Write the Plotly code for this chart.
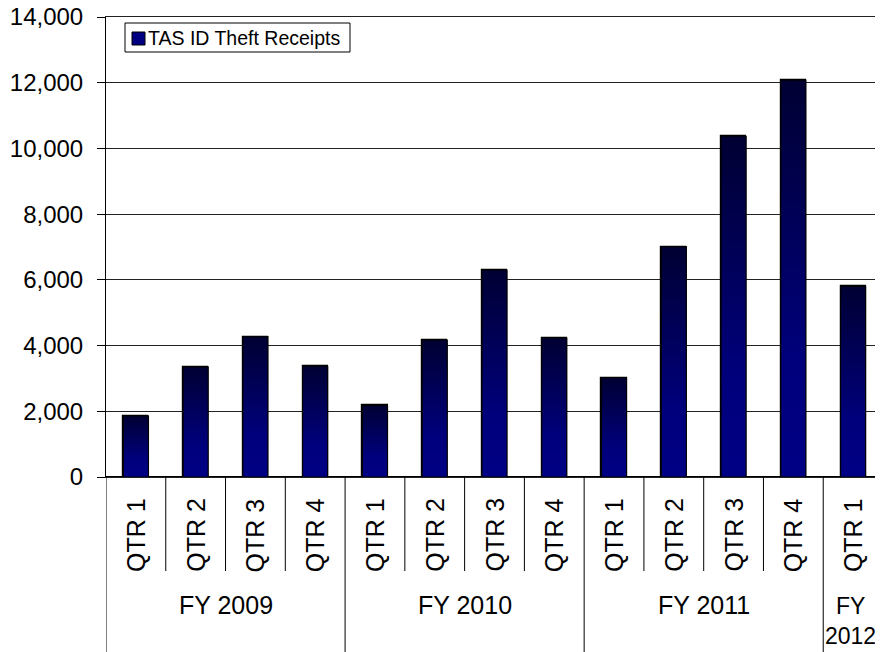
import plotly.graph_objects as go

# ---- data ----
quarters = ["QTR 1", "QTR 2", "QTR 3", "QTR 4",
            "QTR 1", "QTR 2", "QTR 3", "QTR 4",
            "QTR 1", "QTR 2", "QTR 3", "QTR 4",
            "QTR 1"]
fiscal_years = ["FY 2009", "FY 2010", "FY 2011", "FY<br>2012"]
quarters_per_year = [4, 4, 4, 1]
receipts = [1860, 3350, 4270, 3370,
            2180, 4170, 6300, 4230,
            3020, 7010, 10370, 12080,
            5800]
series_name = "TAS ID Theft Receipts"
y_ticks = [0, 2000, 4000, 6000, 8000, 10000, 12000, 14000]

# ---- styling ----
FONT = "Liberation Sans, Arial, sans-serif"
BAR_W = 0.42
PLOT_H = 460.0
PLOT_W = 777.0
x_pos = list(range(len(receipts)))

fig = go.Figure()

# base bar trace (data)
fig.add_trace(go.Bar(
    x=x_pos, y=receipts, width=BAR_W, name=series_name,
    marker=dict(color="#000080", line=dict(color="black", width=1.2)),
    showlegend=False,
))

# gradient overlay for each bar (dark top -> navy bottom)
for xi, v in zip(x_pos, receipts):
    fig.add_trace(go.Scatter(
        x=[xi - BAR_W / 2, xi + BAR_W / 2, xi + BAR_W / 2, xi - BAR_W / 2, xi - BAR_W / 2],
        y=[0, 0, v, v, 0],
        mode="lines", fill="toself",
        fillgradient=dict(type="vertical", start=0, stop=v,
                          colorscale=[[0, "#000085"], [0.3, "#00007c"], [1, "#000033"]]),
        line=dict(color="black", width=1.2),
        hoverinfo="skip", showlegend=False,
    ))

shapes = []
annotations = []
qtr_sep_y = -94 / PLOT_H
grp_sep_y = -180 / PLOT_H

# quarter labels
for xi, q in zip(x_pos, quarters):
    annotations.append(dict(
        x=xi, y=-58 / PLOT_H, xref="x", yref="paper", text=q, textangle=-90,
        showarrow=False, font=dict(family=FONT, size=25, color="black"),
        xanchor="center", yanchor="middle"))

# group labels + separators
start = 0
for fy, n in zip(fiscal_years, quarters_per_year):
    end = start + n
    for b in range(start + 1, end):
        shapes.append(dict(type="line", xref="x", yref="paper",
                           x0=b - 0.5, x1=b - 0.5, y0=0, y1=qtr_sep_y,
                           line=dict(color="black", width=1)))
    shapes.append(dict(type="line", xref="x", yref="paper",
                       x0=start - 0.5, x1=start - 0.5, y0=0, y1=grp_sep_y,
                       line=dict(color="black", width=1)))
    center = (start + end - 1) / 2
    if "<br>" in fy:
        annotations.append(dict(
            x=start - 0.5, xshift=0, y=-144 / PLOT_H, xref="x", yref="paper",
            text=fy, showarrow=False, align="center",
            font=dict(family=FONT, size=23, color="black"),
            xanchor="left", yanchor="middle"))
    else:
        annotations.append(dict(
            x=center, y=-128 / PLOT_H, xref="x", yref="paper",
            text=fy, showarrow=False, font=dict(family=FONT, size=25, color="black"),
            xanchor="center", yanchor="middle"))
    start = end

# legend box (drawn)
lx0, lx1 = (125 - 106) / PLOT_W, (350 - 106) / PLOT_W
ly0, ly1 = (477 - 52) / PLOT_H, (477 - 23) / PLOT_H
shapes.append(dict(type="rect", xref="paper", yref="paper", x0=lx0, x1=lx1, y0=ly0, y1=ly1,
                   line=dict(color="black", width=1), fillcolor="white", layer="above"))
shapes.append(dict(type="rect", xref="paper", yref="paper",
                   x0=(132 - 106) / PLOT_W, x1=(145 - 106) / PLOT_W,
                   y0=(477 - 45) / PLOT_H, y1=(477 - 32) / PLOT_H,
                   line=dict(color="black", width=1), fillcolor="#000080", layer="above"))
annotations.append(dict(x=(146 - 106) / PLOT_W, y=(477 - 38) / PLOT_H, xref="paper", yref="paper",
                        text=series_name, showarrow=False, xanchor="left", yanchor="middle",
                        font=dict(family=FONT, size=19.5, color="black")))

fig.update_layout(
    width=875, height=644,
    margin=dict(l=98, r=0, t=9, b=175, autoexpand=False),
    paper_bgcolor="white", plot_bgcolor="white",
    font=dict(family=FONT, color="black"),
    bargap=0,
    showlegend=False,
    shapes=shapes,
    annotations=annotations,
    xaxis=dict(range=[-0.5, len(receipts) - 0.5], showticklabels=False, ticks="",
               showgrid=False, zeroline=False, automargin=False,
               showline=True, mirror=True, linecolor="#222222", linewidth=1,
               fixedrange=True),
    yaxis=dict(range=[0, 14000], tickvals=y_ticks, tickformat=",d",
               showgrid=True, gridcolor="#222222", gridwidth=1,
               zeroline=True, zerolinecolor="black", zerolinewidth=1.5,
               showline=True, linecolor="black", linewidth=1, automargin=False,
               ticks="outside", ticklen=8, tickcolor="black",
               ticklabelstandoff=9, ticklabeloverflow="allow",
               tickfont=dict(family=FONT, size=24, color="black")),
)

fig.write_html("out.html")
